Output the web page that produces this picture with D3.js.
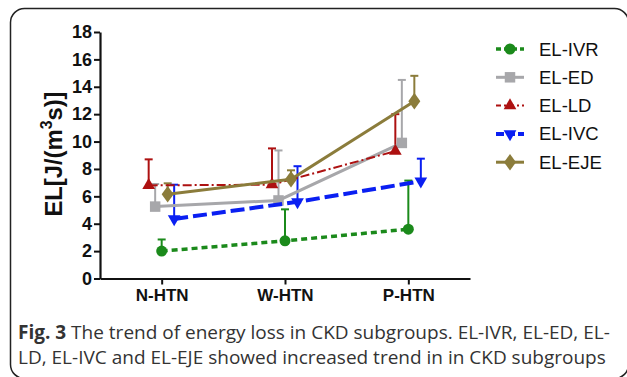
<!DOCTYPE html>
<html>
<head>
<meta charset="UTF-8">
<title>energy loss chart</title>
<script src="https://cdn.jsdelivr.net/npm/d3@7"></script>
<style>
  body { margin: 0; background: #fff; }
</style>
</head>
<body>
<div id="chart"></div>
<script>
// groups on the x axis
const groups = ["N-HTN", "W-HTN", "P-HTN"];
const yTicks = [0, 2, 4, 6, 8, 10, 12, 14, 16, 18];

// mean values per series
const elIVR = [2.0, 2.75, 3.6];
const elED  = [5.25, 5.7, 9.9];
const elLD  = [6.8, 6.85, 9.3];
const elIVC = [4.35, 5.6, 7.1];
const elEJE = [6.15, 7.25, 12.95];

// upper end of error bars
const elIVRhi = [2.85, 5.05, 7.15];
const elEDhi  = [6.9, 9.35, 14.5];
const elLDhi  = [8.7, 9.5, 12.0];
const elIVChi = [6.85, 8.2, 8.75];
const elEJEhi = [6.95, 7.9, 14.8];

const series = [
  {name: "EL-IVR", vals: elIVR, hi: elIVRhi, color: "#1b8a1b", dash: "6,4", lw: 3.5, marker: "circle", dx: 0},
  {name: "EL-ED",  vals: elED,  hi: elEDhi,  color: "#a7a7aa", dash: null, lw: 3, marker: "square", dx: -6.5},
  {name: "EL-LD",  vals: elLD,  hi: elLDhi,  color: "#ad1111", dash: "9,3,2,3", lw: 2, marker: "triangle", dx: -13},
  {name: "EL-IVC", vals: elIVC, hi: elIVChi, color: "#0a1ff2", dash: "14,5", lw: 4, marker: "tridown", dx: 12.5},
  {name: "EL-EJE", vals: elEJE, hi: elEJEhi, color: "#8b7c3b", dash: null, lw: 3, marker: "diamond", dx: 6}
];

const W = 627, H = 377;
const svg = d3.select("#chart").append("svg")
  .attr("width", W).attr("height", H);

// rounded frame
svg.append("rect")
  .attr("x", 10.5).attr("y", 8.5)
  .attr("width", 618).attr("height", 370)
  .attr("rx", 14)
  .attr("fill", "none").attr("stroke", "#222").attr("stroke-width", 1.5);

const plotLeft = 100, plotRight = 470, plotTop = 32, plotBottom = 278.5;

const x = d3.scalePoint().domain(groups).range([plotLeft, plotRight]).padding(0.5);
const y = d3.scaleLinear().domain([0, 18]).range([plotBottom, plotTop]);

const axisFont = "Liberation Sans, Arial, sans-serif";

// y axis
const gy = svg.append("g")
  .attr("transform", "translate(" + plotLeft + ",0)")
  .call(d3.axisLeft(y).tickValues(yTicks).tickSize(6).tickPadding(2).tickSizeOuter(0));
gy.select(".domain").attr("stroke", "#111").attr("stroke-width", 2.2);
gy.selectAll(".tick line").attr("stroke", "#111").attr("stroke-width", 2);
gy.selectAll(".tick text")
  .attr("font-family", axisFont).attr("font-weight", "bold")
  .attr("font-size", "18px").attr("fill", "#111");

// x axis
const gx = svg.append("g")
  .attr("transform", "translate(0," + plotBottom + ")")
  .call(d3.axisBottom(x).tickSize(6).tickPadding(4).tickSizeOuter(0));
gx.select(".domain").attr("stroke", "#111").attr("stroke-width", 2.2);
gx.selectAll(".tick line").attr("stroke", "#111").attr("stroke-width", 2);
gx.selectAll(".tick text")
  .attr("font-family", axisFont).attr("font-weight", "bold")
  .attr("font-size", "17px").attr("fill", "#111");

// y title
const yt = svg.append("text")
  .attr("transform", "translate(62,154) rotate(-90)")
  .attr("text-anchor", "middle")
  .attr("font-family", axisFont).attr("font-weight", "bold")
  .attr("font-size", "24px").attr("fill", "#111")
  .attr("textLength", 125).attr("lengthAdjust", "spacingAndGlyphs");
yt.append("tspan").text("EL[J/(m");
yt.append("tspan").attr("dy", -10).attr("font-size", "16px").text("3");
yt.append("tspan").attr("dy", 10).text("s)]");

function markerPath(type) {
  const sym = {
    circle: d3.symbolCircle, square: d3.symbolSquare, triangle: d3.symbolTriangle,
    tridown: d3.symbolTriangle, diamond: d3.symbolDiamond
  }[type];
  const size = {circle: 95, square: 110, triangle: 70, tridown: 70, diamond: 80}[type];
  return d3.symbol().type(sym).size(size)();
}

// error bars (upper only)
series.forEach(s => {
  const g = svg.append("g");
  groups.forEach((grp, i) => {
    const cx = x(grp) + s.dx;
    g.append("line")
      .attr("x1", cx).attr("x2", cx)
      .attr("y1", y(s.vals[i])).attr("y2", y(s.hi[i]))
      .attr("stroke", s.color).attr("stroke-width", 2);
    g.append("line")
      .attr("x1", cx - 4).attr("x2", cx + 4)
      .attr("y1", y(s.hi[i])).attr("y2", y(s.hi[i]))
      .attr("stroke", s.color).attr("stroke-width", 2);
  });
});

// lines and markers
const line = d3.line();
series.forEach(s => {
  const pts = groups.map((grp, i) => [x(grp) + s.dx, y(s.vals[i])]);
  svg.append("path")
    .attr("d", line(pts))
    .attr("fill", "none")
    .attr("stroke", s.color)
    .attr("stroke-width", s.lw)
    .attr("stroke-dasharray", s.dash);
  svg.selectAll(null).data(pts).join("path")
    .attr("d", markerPath(s.marker))
    .attr("transform", d => "translate(" + d[0] + "," + d[1] + ")" +
      (s.marker === "tridown" ? " rotate(180)" : "") +
      (s.marker === "diamond" ? " scale(1.25,1)" : ""))
    .attr("fill", s.color);
});

// legend
const leg = svg.append("g");
series.forEach((s, i) => {
  const ly = 49 + i * 28.3;
  leg.append("line")
    .attr("x1", 496).attr("x2", 524)
    .attr("y1", ly).attr("y2", ly)
    .attr("stroke", s.color).attr("stroke-width", s.lw)
    .attr("stroke-dasharray", s.name === "EL-IVR" ? "5,3" : s.name === "EL-LD" ? "5,3,2,3" : s.name === "EL-IVC" ? "8,3" : null);
  leg.append("path")
    .attr("d", markerPath(s.marker))
    .attr("transform", "translate(510," + ly + ")" +
      (s.marker === "tridown" ? " rotate(180)" : "") +
      (s.marker === "diamond" ? " scale(1.25,1)" : ""))
    .attr("fill", s.color);
  leg.append("text")
    .attr("x", 539).attr("y", ly + 6.5)
    .attr("font-family", axisFont).attr("font-size", "18.5px").attr("fill", "#111")
    .text(s.name);
});

// caption
const capFont = "Open Sans, Noto Sans, sans-serif";
const c1 = svg.append("text")
  .attr("x", 18).attr("y", 339)
  .attr("font-family", capFont).attr("font-size", "19px").attr("fill", "#333");
c1.append("tspan").attr("font-weight", "bold").text("Fig. 3");
c1.append("tspan").text(" The trend of energy loss in CKD subgroups. EL-IVR, EL-ED, EL-");
svg.append("text")
  .attr("x", 18).attr("y", 364)
  .attr("font-family", capFont).attr("font-size", "19px").attr("fill", "#333")
  .text("LD, EL-IVC and EL-EJE showed increased trend in in CKD subgroups");
</script>
</body>
</html>
